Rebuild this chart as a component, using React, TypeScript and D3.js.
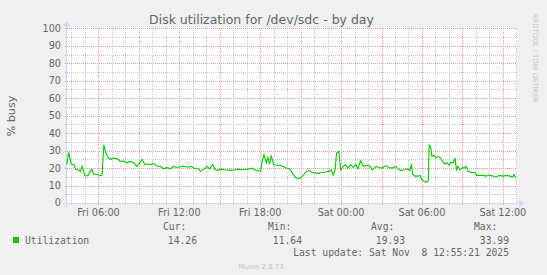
import React from "react";
import * as d3 from "d3";

// minutes since Fri 00:00
const times = [219,227,239,250,260,272,279,287,299,313,323,331,339,353,368,376,384,393,405,417,428,442,457,472,487,501,517,531,542,554,566,580,595,606,620,635,650,665,680,695,709,736,758,773,788,800,815,830,844,855,868,880,892,907,922,944,966,981,1003,1025,1043,1058,1082,1088,1097,1107,1114,1122,1129,1140,1151,1166,1181,1196,1211,1223,1237,1248,1260,1272,1282,1297,1312,1327,1341,1356,1371,1386,1396,1405,1413,1420,1430,1438,1450,1460,1470,1482,1494,1505,1515,1527,1539,1554,1568,1580,1594,1608,1623,1638,1653,1668,1683,1697,1708,1720,1734,1746,1753,1758,1769,1783,1791,1799,1809,1818,1828,1832,1839,1844,1853,1862,1872,1883,1892,1902,1912,1921,1928,1937,1947,1954,1961,1969,1981,1988,1996,2006,2021,2036,2043,2058,2073,2085,2099,2115,2129,2144,2159,2177,2192,2204,2209,2218];
const utilization = [22,29,22,22,19,19,18,21,15.6,15.6,18,19.3,16.5,16.5,15.6,16,33.3,28.6,25.7,25,25.7,25.4,23.8,24,23,23.8,23,21,22.7,25,22,22.3,22,22.7,21,21,19.6,20.3,19.6,21,20.3,21,20.5,21,19.6,20,18.1,19.4,21,19.4,22,19,18.7,19.4,19,18.7,19,19.4,19,19.4,20,18.7,18.1,23.4,27.6,23,26,22.3,27.2,22,21.6,21.6,21,20,19.6,17.1,14.7,13.9,14.3,16,17.7,18.7,17.5,17.1,17.1,17.5,17.7,18.1,19,16,19,28.6,29.5,19,21,22,20,22,20.3,22,19.6,24.2,21,21.6,21,19,21,20.3,20,21.4,20.3,20,21,19,18.7,19,19.6,18.5,22.3,16.6,15.4,15.4,15.8,13.3,12.5,11.8,12.7,33.3,32,26.7,27.2,26,26.7,25.7,23.8,22.3,22.9,21.6,23.4,22.9,25.4,19,21,19,20.3,20,21,18.1,17.5,17.5,15.8,15.8,15.8,15.4,16,15.4,14.9,15.8,15.4,15.8,15.4,14.9,16.3,14.3];

const timeDomain = [220, 2223];
const xLabelTimes = [360, 720, 1080, 1440, 1800, 2160];
const xLabels = ["Fri 06:00", "Fri 12:00", "Fri 18:00", "Sat 00:00", "Sat 06:00", "Sat 12:00"];
const yTicks = [0, 10, 20, 30, 40, 50, 60, 70, 80, 90, 100];
const yMinor = [5, 15, 25, 35, 45, 55, 65, 75, 85, 95];

const title = "Disk utilization for /dev/sdc - by day";
const yLabel = "% busy";
const seriesName = "Utilization";
const statLabels = ["Cur:", "Min:", "Avg:", "Max:"];
const statValues = ["14.26", "11.64", "19.93", "33.99"];
const lastUpdate = "Last update: Sat Nov  8 12:55:21 2025";
const footer = "Munin 2.0.73";
const watermark = "RRDTOOL / TOBI OETIKER";

export default function App() {
  const W = 547, H = 275;
  const left = 67, right = 517, top = 28.3, bottom = 203;
  const x = d3.scaleLinear().domain(timeDomain).range([left, right]);
  const y = d3.scaleLinear().domain([0, 100]).range([bottom, top]);
  const majorX = d3.range(360, timeDomain[1], 180);
  const minorX = d3.range(240, timeDomain[1], 60).filter((t) => (t - 360) % 180 !== 0);
  const line = d3
    .line<number>()
    .x((_, i) => x(times[i]))
    .y((d) => y(d));
  const font = "'DejaVu Sans', sans-serif";
  const mono = "'DejaVu Sans Mono', monospace";
  const fc = "#666666";
  const axisC = "#CFD6F8";
  const minorC = "#c8c8c8";
  const majorC = "#ee9a9a";
  const statX = [163, 268, 371, 474];
  const statValX = [197, 302, 405, 509];
  const gy0 = 28;
  const gy1 = 205;
  return (
    <svg width={W} height={H} style={{ position: "absolute", left: 0, top: 0, background: "#F0F0F0" }}>
      <rect x={0} y={0} width={W} height={H} fill="#F0F0F0" />
      <rect x={left} y={28} width={right - left} height={bottom - 28} fill="#FFFFFF" />
      {/* minor grid */}
      {yMinor.map((v) => (
        <line key={"ym" + v} x1={left - 2} x2={right} y1={Math.round(y(v)) + 0.5} y2={Math.round(y(v)) + 0.5}
          stroke={minorC} strokeDasharray="1,1" shapeRendering="crispEdges" />
      ))}
      {minorX.map((t) => (
        <line key={"xm" + t} x1={Math.round(x(t)) + 0.5} x2={Math.round(x(t)) + 0.5} y1={gy0} y2={gy1}
          stroke={minorC} strokeDasharray="1,1" shapeRendering="crispEdges" />
      ))}
      {/* major grid */}
      {yTicks.map((v) => (
        <line key={"yM" + v} x1={left - 2} x2={right} y1={Math.round(y(v)) + 0.5} y2={Math.round(y(v)) + 0.5}
          stroke={majorC} strokeDasharray="1,1" shapeRendering="crispEdges" />
      ))}
      {majorX.map((t) => (
        <line key={"xM" + t} x1={Math.round(x(t)) + 0.5} x2={Math.round(x(t)) + 0.5} y1={gy0} y2={gy1}
          stroke={majorC} strokeDasharray="1,1" shapeRendering="crispEdges" />
      ))}
      {/* axes */}
      <line x1={left - 4} x2={right + 3} y1={bottom + 0.5} y2={bottom + 0.5} stroke={axisC} />
      <path d={`M${right + 2},${bottom - 3.5} L${right + 7},${bottom + 0.5} L${right + 2},${bottom + 4.5} Z`} fill={axisC} />
      <line x1={left - 0.5} x2={left - 0.5} y1={bottom + 4} y2={top - 3} stroke={axisC} />
      <path d={`M${left - 4.5},${top - 2} L${left - 0.5},${top - 7} L${left + 3.5},${top - 2} Z`} fill={axisC} />
      {/* data */}
      <path d={line(utilization) || ""} fill="none" stroke="#00CC00" strokeWidth={1.1} />
      {/* y ticks */}
      {yTicks.map((v) => (
        <text key={"yl" + v} x={61} y={y(v)} dy="0.36em" textAnchor="end" fontFamily={font} fontSize={9.7} fill={fc}>
          {v}
        </text>
      ))}
      {/* x labels */}
      {xLabelTimes.map((t, i) => (
        <text key={"xl" + t} x={x(t)} y={216} textAnchor="middle" fontFamily={font} fontSize={9.7} fill={fc}>
          {xLabels[i]}
        </text>
      ))}
      <text x={261.5} y={24} textAnchor="middle" fontFamily={font} fontSize={12.5} fill={fc}>
        {title}
      </text>
      <text transform="translate(15,116) rotate(-90)" textAnchor="middle" fontFamily={font} fontSize={11.1} fill={fc}>
        {yLabel}
      </text>
      <text transform="translate(533,58) rotate(90)" textAnchor="middle" fontFamily={font} fontSize={6.9} fill="#c4c4c4">
        {watermark}
      </text>
      {/* legend */}
      <rect x={13} y={237} width={6} height={6} fill="#00CC00" />
      <text x={25} y={244} fontFamily={mono} fontSize={9.7} fill={fc} style={{ whiteSpace: "pre" }}>
        {seriesName}
      </text>
      {statLabels.map((s, i) => (
        <text key={s} x={statX[i]} y={230} fontFamily={mono} fontSize={9.7} fill={fc}>
          {s}
        </text>
      ))}
      {statValues.map((s, i) => (
        <text key={"v" + i} x={statValX[i]} y={244} textAnchor="end" fontFamily={mono} fontSize={9.7} fill={fc}>
          {s}
        </text>
      ))}
      <text x={509} y={256} textAnchor="end" fontFamily={mono} fontSize={9.7} fill={fc} xmlSpace="preserve" style={{ whiteSpace: "pre" }}>
        {lastUpdate}
      </text>
      <text x={261} y={269} textAnchor="middle" fontFamily={font} fontSize={6.9} fill="#c4c4c4">
        {footer}
      </text>
    </svg>
  );
}
